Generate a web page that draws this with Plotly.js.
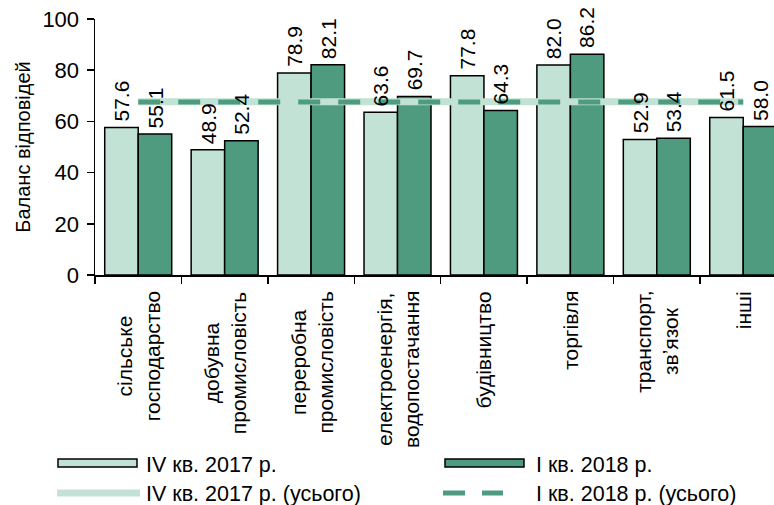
<!DOCTYPE html>
<html>
<head>
<meta charset="utf-8">
<script src="https://cdn.plot.ly/plotly-3.0.1.min.js"></script>
<style>html,body{margin:0;padding:0;background:#fff;overflow:hidden;}#chart{width:774px;height:505px;}</style>
</head>
<body>
<div id="chart"></div>
<script>
// ---- data ----
const categories = [
  'сільське<br>господарство',
  'добувна<br>промисловість',
  'переробна<br>промисловість',
  'електроенергія,<br>водопостачання',
  'будівництво',
  'торгівля',
  'транспорт,<br>зв\u02BCязок',
  'інші'
];
const q4_2017 = [57.6, 48.9, 78.9, 63.6, 77.8, 82.0, 52.9, 61.5];
const q1_2018 = [55.1, 52.4, 82.1, 69.7, 64.3, 86.2, 53.4, 58.0];
const total_q4_2017 = 67.7;
const total_q1_2018 = 67.6;
const seriesNames = ['IV кв. 2017 р.', 'I кв. 2018 р.', 'IV кв. 2017 р. (усього)', 'I кв. 2018 р. (усього)'];
const yTitle = 'Баланс відповідей';

// ---- style ----
const LIGHT = '#c1e2d5';
const DARK = '#4f9b80';
const FONT = 'Arial, "Liberation Sans", sans-serif';
const L = 95, T = 19, W = 679, H = 256;
const px = x => (x - L) / W;
const py = y => (T + H - y) / H;
const BARGAP = 0.225;
const HALF_BAR_UNITS = (1 - BARGAP) / 4;

const traces = [
  {type: 'bar', x: categories, y: q4_2017, name: seriesNames[0],
   marker: {color: LIGHT, line: {color: '#000', width: 1.5}}, showlegend: false},
  {type: 'bar', x: categories, y: q1_2018, name: seriesNames[1],
   marker: {color: DARK, line: {color: '#000', width: 1.5}}, showlegend: false},
  {type: 'scatter', mode: 'lines', x: categories, y: categories.map(() => total_q4_2017),
   name: seriesNames[2], line: {color: LIGHT, width: 7}, showlegend: false},
  {type: 'scatter', mode: 'lines', x: categories, y: categories.map(() => total_q1_2018),
   name: seriesNames[3], line: {color: DARK, width: 5, dash: '22px,18px'}, showlegend: false}
];

const annotations = [];
// value labels
[[q4_2017, -HALF_BAR_UNITS], [q1_2018, HALF_BAR_UNITS]].forEach(([vals, off]) => {
  vals.forEach((v, i) => annotations.push({
    x: i + off, xref: 'x', y: v, yref: 'y', text: v.toFixed(1), showarrow: false,
    textangle: -90, xanchor: 'center', yanchor: 'bottom', borderpad: 5,
    font: {family: FONT, size: 21, color: '#000'}
  }));
});
// category labels
categories.forEach(c => annotations.push({
  x: c, xref: 'x', y: py(289), yref: 'paper', text: c, showarrow: false,
  textangle: -90, xanchor: 'center', yanchor: 'top', align: 'center',
  font: {family: FONT, size: 21, color: '#000'}
}));
// legend texts
const LEG_FONT = {family: FONT, size: 21.5, color: '#000'};
annotations.push(
  {x: px(144), y: py(465), xref: 'paper', yref: 'paper', text: seriesNames[0], showarrow: false, xanchor: 'left', yanchor: 'middle', font: LEG_FONT},
  {x: px(534), y: py(465), xref: 'paper', yref: 'paper', text: seriesNames[1], showarrow: false, xanchor: 'left', yanchor: 'middle', font: LEG_FONT},
  {x: px(144), y: py(494), xref: 'paper', yref: 'paper', text: seriesNames[2], showarrow: false, xanchor: 'left', yanchor: 'middle', font: LEG_FONT},
  {x: px(534), y: py(494), xref: 'paper', yref: 'paper', text: seriesNames[3], showarrow: false, xanchor: 'left', yanchor: 'middle', font: LEG_FONT}
);

// legend symbols
const shapes = [
  {type: 'rect', xref: 'paper', yref: 'paper', x0: px(58), x1: px(137), y0: py(467), y1: py(459), fillcolor: LIGHT, line: {color: '#000', width: 1.5}},
  {type: 'rect', xref: 'paper', yref: 'paper', x0: px(445), x1: px(524), y0: py(467), y1: py(459), fillcolor: DARK, line: {color: '#000', width: 1.5}},
  {type: 'line', xref: 'paper', yref: 'paper', x0: px(57), x1: px(140), y0: py(493), y1: py(493), line: {color: LIGHT, width: 7}},
  {type: 'line', xref: 'paper', yref: 'paper', x0: px(443), x1: px(503), y0: py(493), y1: py(493), line: {color: DARK, width: 5, dash: '22px,17px'}}
];

const layout = {
  width: 774, height: 505,
  margin: {l: L, r: 774 - L - W, t: T, b: 505 - T - H, pad: 0},
  paper_bgcolor: '#fff', plot_bgcolor: '#fff',
  barmode: 'group', bargap: BARGAP, bargroupgap: 0,
  showlegend: false,
  xaxis: {
    type: 'category', range: [-0.5, 7.356], showline: true, linecolor: '#000', linewidth: 1.5,
    ticks: 'outside', ticklen: 7, tickwidth: 1.5, tickcolor: '#000', tickson: 'boundaries',
    showticklabels: false, showgrid: false, zeroline: false
  },
  yaxis: {
    range: [0, 100], dtick: 20, tick0: 0, showline: true, linecolor: '#000', linewidth: 1.5,
    ticks: 'outside', ticklen: 7, tickwidth: 1.5, tickcolor: '#000',
    tickfont: {family: FONT, size: 22, color: '#000'}, ticklabelstandoff: 3,
    showgrid: false, zeroline: false,
    title: {text: yTitle, font: {family: FONT, size: 20, color: '#000'}, standoff: 6}
  },
  annotations: annotations,
  shapes: shapes
};

Plotly.newPlot('chart', traces, layout, {staticPlot: true});
</script>
</body>
</html>
